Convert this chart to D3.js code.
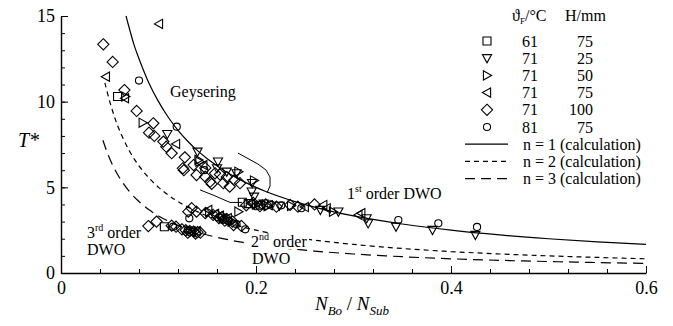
<!DOCTYPE html>
<html>
<head>
<meta charset="utf-8">
<script src="https://cdn.jsdelivr.net/npm/d3@7"></script>
<style>
  html, body { margin: 0; padding: 0; background: #fff; }
  svg text { font-family: "Liberation Serif", "Times New Roman", serif; }
</style>
</head>
<body>
<svg id="chart" width="673" height="326"></svg>
<script>
// ---- measured series: [N_Bo/N_Sub, T*] ----
const sq61 = [[0.058,10.3],[0.106,2.70],[0.186,4.13],[0.192,4.05],[0.133,2.45],[0.166,3.2],[0.205,3.95]];
const tri25 = [[0.109,8.11],[0.140,7.08],[0.160,6.11],[0.161,6.5],[0.170,5.91],[0.180,5.82],[0.196,5.25],
  [0.1956,4.75],[0.198,4.45],[0.208,4.05],[0.224,3.92],[0.266,3.68],[0.2845,3.58],[0.3135,3.19],[0.315,2.9],
  [0.3436,2.7],[0.381,2.51],[0.425,2.22]];
const tri50 = [[0.066,10.3],[0.0838,8.77],[0.141,6.6],[0.142,6.5],[0.182,5.91],[0.198,5.4],[0.182,3.58],
  [0.152,3.55],[0.200,4.0],[0.236,3.92],[0.279,3.58],[0.175,3.0],[0.212,3.9]];
const tri75 = [[0.1005,14.54],[0.046,11.46],[0.0656,10.2],[0.118,7.53],[0.146,6.3],[0.151,3.68],[0.163,3.35],
  [0.171,3.2],[0.139,2.45],[0.195,4.05],[0.213,3.95],[0.25,3.85],[0.269,3.97],[0.2725,3.78],[0.305,3.39],[0.308,3.49],
  [0.158,3.45],[0.203,4.0],[0.134,2.4]];
const dia100 = [[0.0434,13.35],[0.053,12.32],[0.065,10.68],[0.0776,9.46],[0.0947,8.74],[0.0903,8.19],[0.0957,8.0],
  [0.105,7.67],[0.108,7.37],[0.1135,6.99],[0.127,6.75],[0.125,6.11],[0.126,6.0],[0.136,6.3],[0.139,5.72],
  [0.148,6.13],[0.148,5.62],[0.153,5.33],[0.1545,5.2],[0.158,5.82],[0.163,5.75],[0.1665,5.24],[0.173,5.04],
  [0.178,5.43],[0.1836,5.24],[0.17,5.6],
  [0.1306,3.58],[0.134,3.78],[0.139,3.58],[0.148,3.49],[0.156,3.39],[0.16,3.35],[0.165,3.25],[0.17,3.15],
  [0.176,3.0],[0.177,2.8],[0.185,2.75],[0.168,3.05],[0.162,3.2],
  [0.19,3.95],[0.197,4.1],[0.204,3.9],[0.21,4.0],[0.221,3.87],[0.235,3.97],[0.243,3.87],[0.26,4.0],
  [0.0896,2.74],[0.098,3.0],[0.1135,2.76],[0.118,2.7],[0.124,2.55],[0.128,2.5],[0.132,2.45],[0.136,2.42],
  [0.14,2.38],[0.143,2.35],[0.13,2.35],[0.138,2.3]];
const circ81 = [[0.080,11.23],[0.1187,8.54],[0.147,6.0],[0.1316,3.19],[0.115,2.7],[0.13,2.5],[0.172,3.05],
  [0.189,2.55],[0.18,2.85],[0.2,3.9],[0.215,4.0],[0.2465,3.78],[0.346,3.09],[0.387,2.9],[0.4267,2.69],
  [0.226,3.95],[0.166,3.1]];

// ---- calculated stability curves, n = 1, 2, 3 ----
const calcN1 = [[0.0667,15],[0.07,14.3],[0.075,13.3],[0.08,12.5],[0.09,11.1],[0.1,10],[0.11,9.09],[0.12,8.33],
  [0.13,7.69],[0.14,7.14],[0.15,6.67],[0.17,5.88],[0.19,5.26],[0.21,4.76],[0.24,4.17],[0.27,3.7],[0.3,3.33],
  [0.35,2.86],[0.4,2.5],[0.45,2.22],[0.5,2.0],[0.55,1.82],[0.6,1.67]];
const calcN2 = [[0.045,11.1],[0.05,10],[0.055,9.09],[0.06,8.33],[0.07,7.14],[0.08,6.25],[0.09,5.56],[0.1,5.0],
  [0.11,4.55],[0.12,4.17],[0.14,3.57],[0.16,3.13],[0.18,2.78],[0.2,2.5],[0.23,2.17],[0.26,1.92],[0.3,1.67],
  [0.35,1.43],[0.4,1.25],[0.45,1.11],[0.5,1.0],[0.55,0.91],[0.6,0.83]];
const calcN3 = [[0.043,7.75],[0.047,7.09],[0.05,6.67],[0.055,6.06],[0.06,5.56],[0.07,4.76],[0.08,4.17],[0.09,3.7],
  [0.1,3.33],[0.11,3.03],[0.12,2.78],[0.14,2.38],[0.16,2.08],[0.18,1.85],[0.2,1.67],[0.23,1.45],[0.26,1.28],
  [0.3,1.11],[0.35,0.95],[0.4,0.83],[0.45,0.74],[0.5,0.67],[0.55,0.61],[0.6,0.56]];

// ---- hand-drawn region boundaries near the 1st-order branch ----
const boundUpper = [[0.1815,7.0],[0.202,6.36],[0.2103,6.01],[0.2144,5.6],[0.2144,5.08],[0.2113,4.67]];
const boundLower = [[0.1426,4.85],[0.158,4.5],[0.1733,4.12],[0.1856,4.12]];

// ---- axes ----
const xTicks = [0, 0.2, 0.4, 0.6];
const xTickLabels = ["0", "0.2", "0.4", "0.6"];
const xMinorTicks = d3.range(0, 0.6001, 0.04);
const yTicks = [0, 5, 10, 15];
const yTickLabels = ["0", "5", "10", "15"];
const yMinorTicks = d3.range(0, 15.001, 1);

// ---- legend rows ----
const legTemp = ["61", "71", "71", "71", "71", "81"];
const legHeight = ["75", "25", "50", "75", "100", "75"];
const legCalc = ["n = 1 (calculation)", "n = 2 (calculation)", "n = 3 (calculation)"];

const SERIF = "'Liberation Serif', 'Times New Roman', serif";
const svg = d3.select("#chart").style("font-family", SERIF);
const x = d3.scaleLinear().domain([0, 0.6]).range([61, 646]);
const y = d3.scaleLinear().domain([0, 15]).range([273, 16]);

// custom marker shapes for d3.symbol
const mk = pts => ({ draw(ctx) { ctx.moveTo(pts[0][0], pts[0][1]); for (let i = 1; i < pts.length; i++) ctx.lineTo(pts[i][0], pts[i][1]); ctx.closePath(); } });
const shapes = {
  square: mk([[-4,-4],[4,-4],[4,4],[-4,4]]),
  triDown: mk([[-4.6,-3.6],[4.6,-3.6],[0,4.6]]),
  triRight: mk([[-3.6,-4.6],[4.6,0],[-3.6,4.6]]),
  triLeft: mk([[3.6,-4.6],[-4.6,0],[3.6,4.6]]),
  diamond: mk([[0,-5.6],[5.6,0],[0,5.6],[-5.6,0]]),
  circle: d3.symbolCircle
};
const sym = (type) => d3.symbol().type(shapes[type]).size(type === "circle" ? 40 : 64)();

const series = [
  { data: sq61, shape: "square" },
  { data: tri25, shape: "triDown" },
  { data: tri50, shape: "triRight" },
  { data: tri75, shape: "triLeft" },
  { data: dia100, shape: "diamond" },
  { data: circ81, shape: "circle" }
];

// calculation curves
const line = d3.line().x(d => x(d[0])).y(d => y(d[1])).curve(d3.curveCatmullRom);
const curves = [
  { data: calcN1, dash: null },
  { data: calcN2, dash: "5,4" },
  { data: calcN3, dash: "10,6" }
];
svg.append("g").selectAll("path").data(curves).join("path")
  .attr("d", d => line(d.data))
  .attr("fill", "none").attr("stroke", "#000").attr("stroke-width", 1.2)
  .attr("stroke-dasharray", d => d.dash);

// boundary lines
const bLine = d3.line().x(d => x(d[0])).y(d => y(d[1]));
svg.append("g").selectAll("path").data([boundUpper, boundLower]).join("path")
  .attr("d", bLine).attr("fill", "none").attr("stroke", "#000").attr("stroke-width", 1);

// markers
series.forEach(s => {
  svg.append("g").selectAll("path").data(s.data).join("path")
    .attr("transform", d => `translate(${x(d[0])},${y(d[1])})`)
    .attr("d", sym(s.shape))
    .attr("fill", "none").attr("stroke", "#000").attr("stroke-width", 1.1);
});

// axes
const axisStyle = g => {
  g.attr("font-family", null).attr("font-size", 18);
  g.select(".domain").attr("stroke-width", 1.4);
  g.selectAll(".tick line").attr("stroke-width", 1);
  g.selectAll("text").style("font-family", SERIF).attr("font-size", 18).attr("fill", "#000");
};
svg.append("g").attr("transform", "translate(0,273)")
  .call(d3.axisBottom(x).tickValues(xMinorTicks).tickSizeInner(-4).tickSizeOuter(0).tickFormat(""))
  .call(g => g.select(".domain").remove());
svg.append("g").attr("transform", "translate(0,273)")
  .call(d3.axisBottom(x).tickValues(xTicks).tickSizeInner(-7).tickSizeOuter(0).tickPadding(8)
    .tickFormat((d, i) => xTickLabels[i]))
  .call(axisStyle);
svg.append("g").attr("transform", "translate(61,0)")
  .call(d3.axisLeft(y).tickValues(yMinorTicks).tickSizeInner(-4).tickSizeOuter(0).tickFormat(""))
  .call(g => g.select(".domain").remove());
svg.append("g").attr("transform", "translate(61,0)")
  .call(d3.axisLeft(y).tickValues(yTicks).tickSizeInner(-7).tickSizeOuter(0).tickPadding(6)
    .tickFormat((d, i) => yTickLabels[i]))
  .call(axisStyle);

// axis titles
svg.append("text").attr("x", 18).attr("y", 147).attr("font-size", 20).attr("font-style", "italic").text("T*");
const xt = svg.append("text").attr("x", 352).attr("y", 310).attr("text-anchor", "middle").attr("font-size", 19).attr("font-style", "italic");
xt.append("tspan").text("N");
xt.append("tspan").attr("font-size", 13).attr("dy", 5).text("Bo");
xt.append("tspan").attr("dy", -5).attr("font-style", "normal").text(" / ");
xt.append("tspan").text("N");
xt.append("tspan").attr("font-size", 13).attr("dy", 5).text("Sub");

// region annotations
const note = (px, py, big, sup, rest) => {
  const t = svg.append("text").attr("x", px).attr("y", py).attr("font-size", 16);
  t.append("tspan").text(big);
  if (sup) t.append("tspan").attr("font-size", 10).attr("dy", -7).text(sup);
  if (rest) t.append("tspan").attr("dy", sup ? 7 : 0).text(rest);
  return t;
};
note(170, 97, "Geysering");
note(347, 199, "1", "st", " order DWO");
svg.append("rect").attr("x", 249).attr("y", 233).attr("width", 60).attr("height", 16).attr("fill", "#fff");
note(251, 247, "2", "nd", " order");
note(252, 264, "DWO");
note(87, 238, "3", "rd", " order");
note(87, 255, "DWO");

// legend
const lg = svg.append("g").attr("font-size", 16);
const hdr = lg.append("text").attr("x", 512).attr("y", 21);
hdr.append("tspan").text("ϑ");
hdr.append("tspan").attr("font-size", 9).attr("dy", 3).text("F");
hdr.append("tspan").attr("dy", -3).text("/°C");
lg.append("text").attr("x", 565).attr("y", 21).text("H/mm");
const rowY = i => 41 + i * 17.2;
series.forEach((s, i) => {
  lg.append("path").attr("transform", `translate(487,${rowY(i)})`).attr("d", sym(s.shape))
    .attr("fill", "none").attr("stroke", "#000").attr("stroke-width", 1.1);
  lg.append("text").attr("x", 530).attr("y", rowY(i) + 5.5).attr("text-anchor", "middle").text(legTemp[i]);
  lg.append("text").attr("x", 593).attr("y", rowY(i) + 5.5).attr("text-anchor", "end").text(legHeight[i]);
});
curves.forEach((c, j) => {
  const yy = rowY(6 + j);
  lg.append("line").attr("x1", 465).attr("x2", 508).attr("y1", yy).attr("y2", yy)
    .attr("stroke", "#000").attr("stroke-width", 1.2).attr("stroke-dasharray", c.dash);
  lg.append("text").attr("x", 523).attr("y", yy + 5.5).text(legCalc[j]);
});
</script>
</body>
</html>
